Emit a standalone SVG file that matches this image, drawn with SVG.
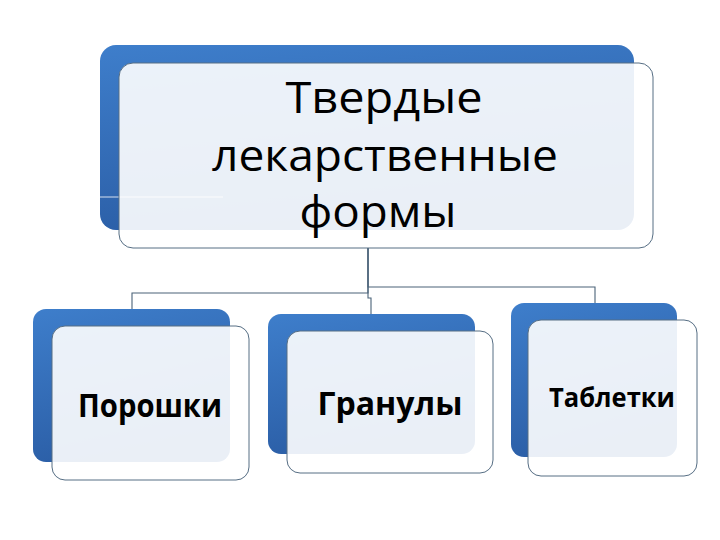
<svg xmlns="http://www.w3.org/2000/svg" width="720" height="540" viewBox="0 0 720 540">
<defs>
<linearGradient id="blue" x1="0" y1="0" x2="0.3" y2="1">
<stop offset="0" stop-color="#3e7ecb"/>
<stop offset="1" stop-color="#2b5ea6"/>
</linearGradient>
</defs>
<style>
.back{fill:url(#blue);}
.front{fill:#ffffff;fill-opacity:0.9;stroke:#566e84;stroke-width:1;}
.conn{fill:none;stroke:#4a6378;stroke-width:1.1;}
.main{font-family:"Open Sans","Noto Sans","DejaVu Sans",sans-serif;font-size:44px;fill:#000;text-anchor:middle;}
.child{font-family:"Open Sans","Noto Sans","DejaVu Sans",sans-serif;font-weight:bold;fill:#000;text-anchor:middle;}
</style>
<rect width="720" height="540" fill="#ffffff"/>
<g id="connectors">
<path class="conn" d="M368,248 V293 H132 V310"/>
<path class="conn" d="M368,248 V298 H371 V314"/>
<path class="conn" d="M368,248 V287 H595 V303"/>
</g>
<g id="node-main">
<rect class="back" x="100" y="45" width="534" height="185" rx="16"/>
<line x1="100" y1="197" x2="223" y2="197" stroke="#ffffff" stroke-width="1.2" opacity="0.8"/>
<rect class="front" x="119" y="63" width="534" height="185" rx="14"/>
<text class="main" x="384" y="113" textLength="197" lengthAdjust="spacingAndGlyphs">Твердые</text>
<text class="main" x="385" y="171" textLength="346" lengthAdjust="spacingAndGlyphs">лекарственные</text>
<text class="main" x="378" y="227" textLength="157" lengthAdjust="spacingAndGlyphs">формы</text>
</g>
<g id="node-poroshki">
<rect class="back" x="33" y="309" width="197" height="153" rx="13"/>
<rect class="front" x="52" y="326" width="197" height="154" rx="13"/>
<text class="child" x="150" y="417" font-size="32" textLength="144" lengthAdjust="spacingAndGlyphs">Порошки</text>
</g>
<g id="node-granuly">
<rect class="back" x="268" y="314" width="207" height="140" rx="13"/>
<rect class="front" x="287" y="331" width="206" height="142" rx="13"/>
<text class="child" x="390" y="415" font-size="32" textLength="145" lengthAdjust="spacingAndGlyphs">Гранулы</text>
</g>
<g id="node-tabletki">
<rect class="back" x="511" y="303" width="166" height="154" rx="13"/>
<rect class="front" x="528" y="320" width="169" height="156" rx="13"/>
<text class="child" x="612" y="407" font-size="26" textLength="126" lengthAdjust="spacingAndGlyphs">Таблетки</text>
</g>
</svg>
